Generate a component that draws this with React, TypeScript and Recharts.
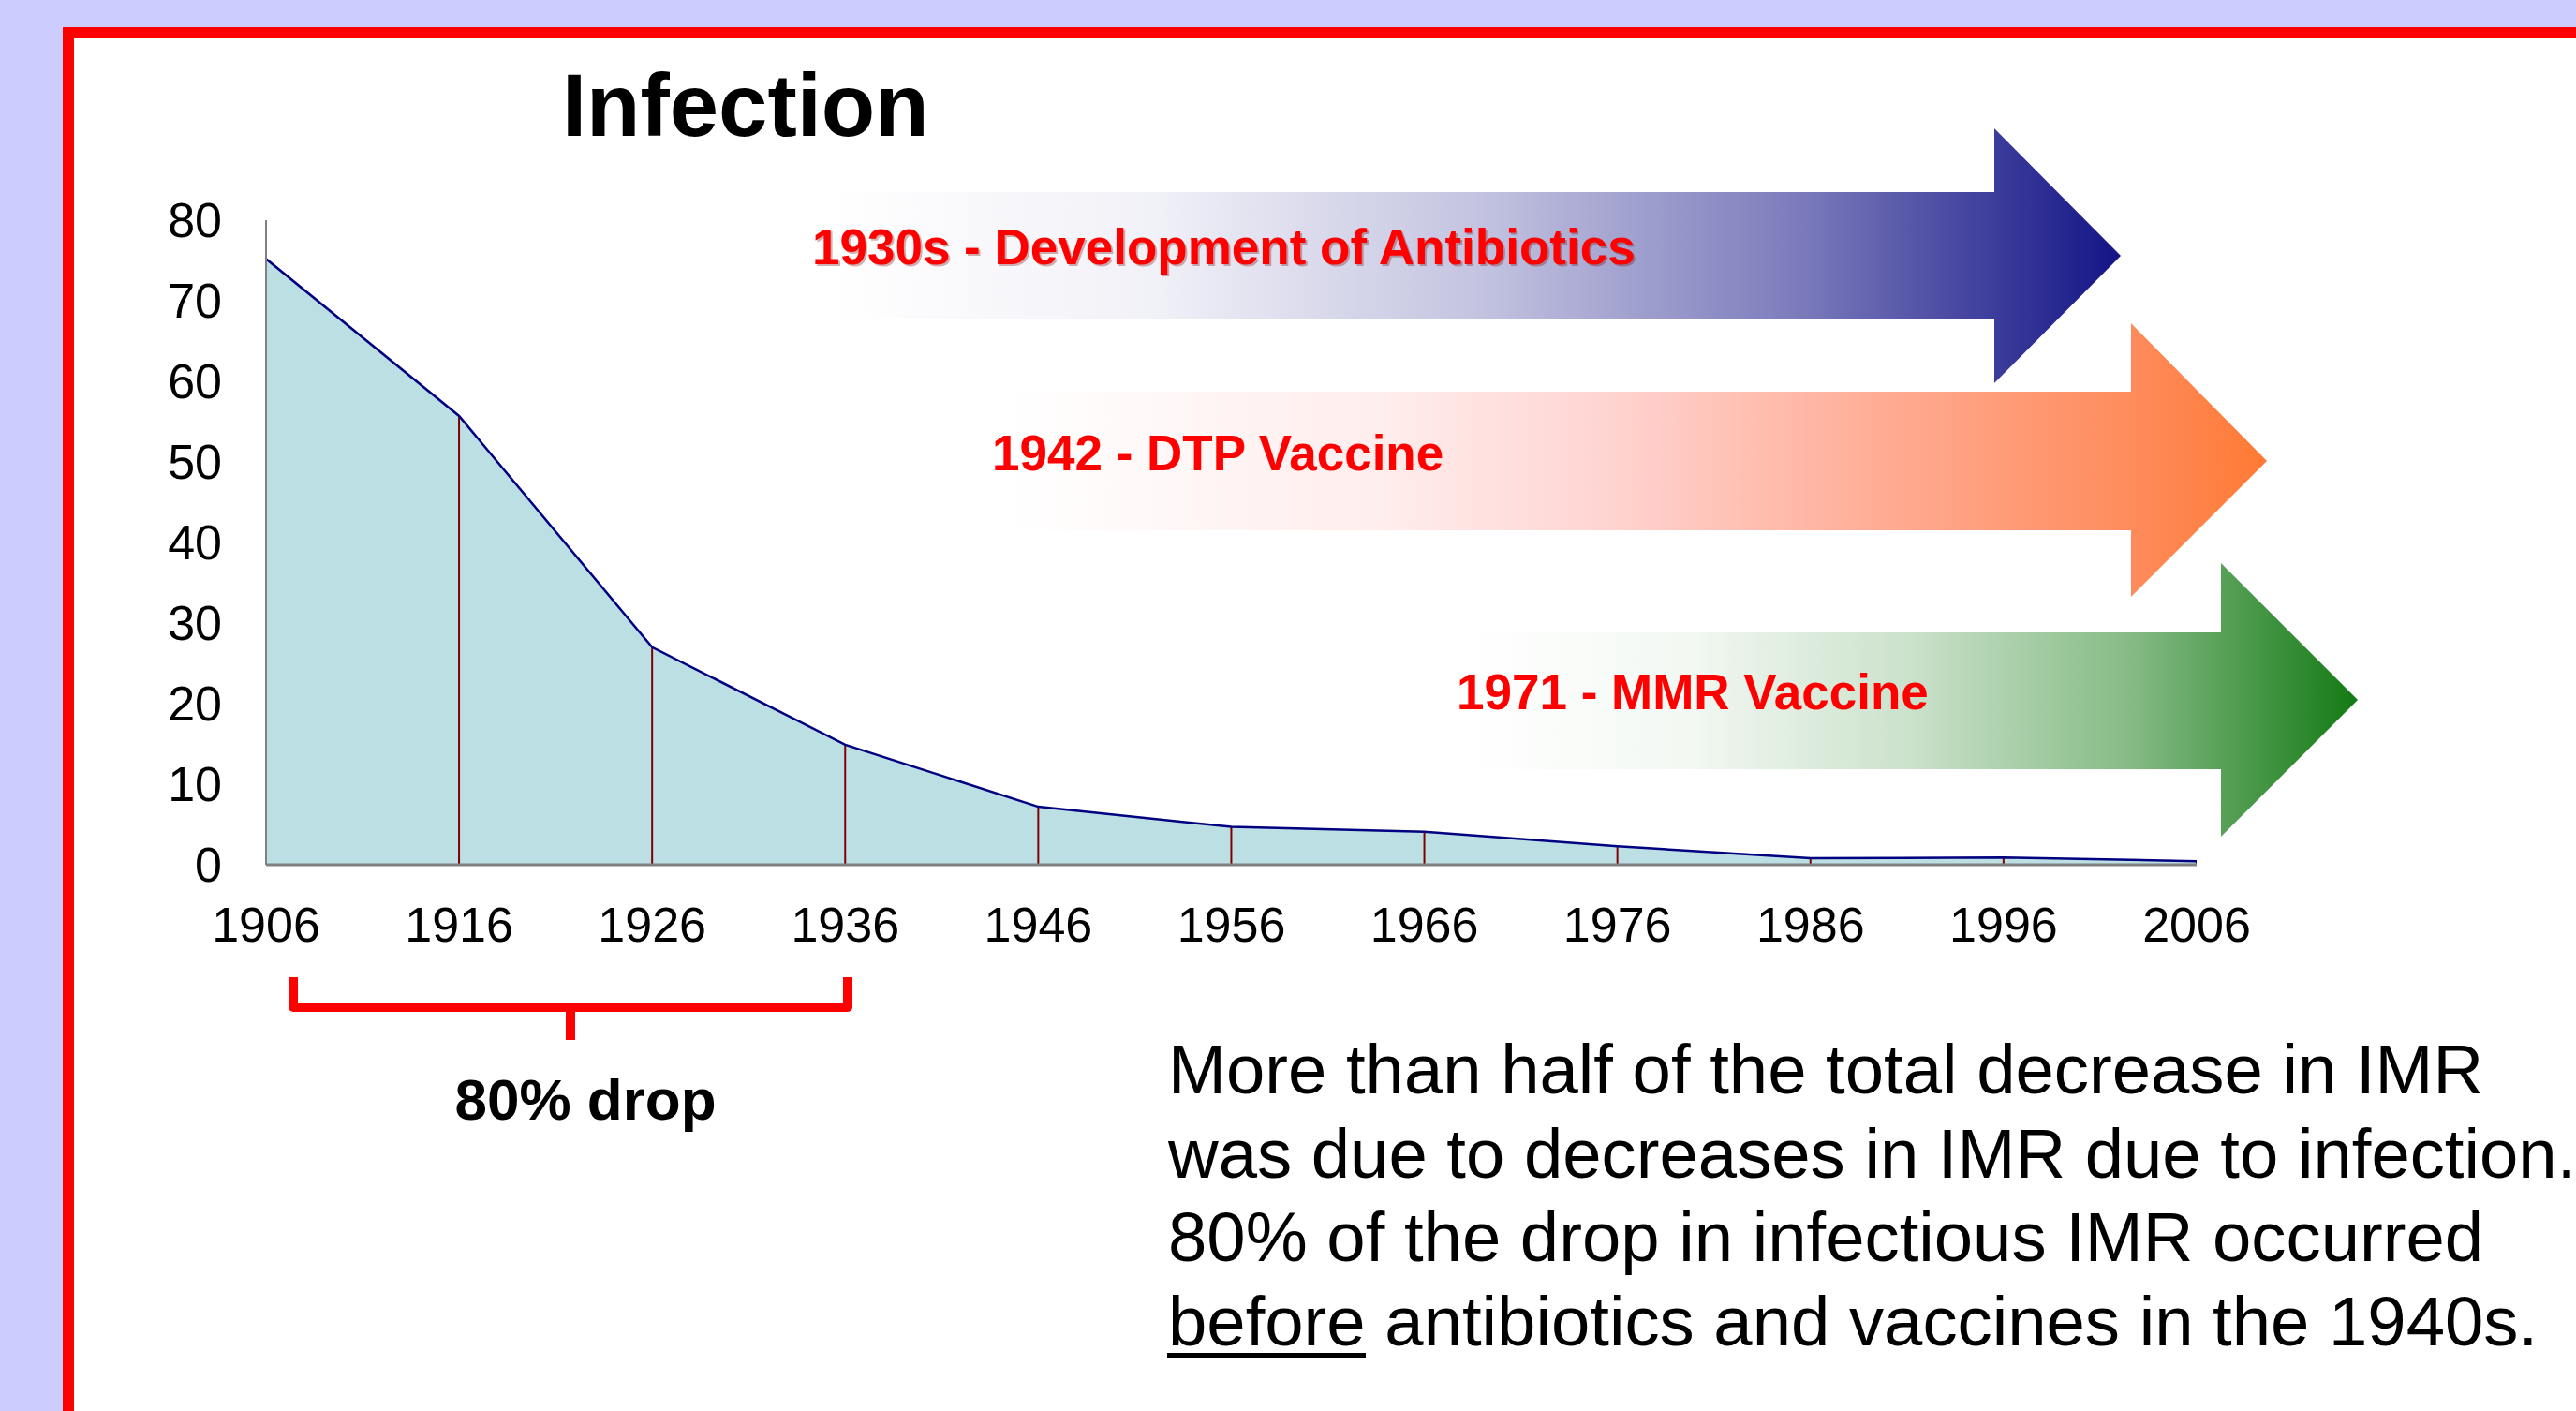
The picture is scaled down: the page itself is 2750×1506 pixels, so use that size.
import React from "react";
import {
  ComposedChart,
  Area,
  Bar,
  Line,
  XAxis,
  YAxis,
} from "recharts";

const years = [1906, 1916, 1926, 1936, 1946, 1956, 1966, 1976, 1986, 1996, 2006];
const infectionIMR = [75.2, 55.7, 27.0, 14.9, 7.2, 4.7, 4.1, 2.3, 0.8, 0.9, 0.45];
const yTicks = [0, 10, 20, 30, 40, 50, 60, 70, 80];
const xTicks = years;

const title = "Infection";
const arrowLabels = [
  "1930s - Development of Antibiotics",
  "1942 - DTP Vaccine",
  "1971 - MMR Vaccine",
];
const bracketLabel = "80% drop";
const noteLines = [
  "More than half of the total decrease in IMR",
  "was due to decreases in IMR due to infection.",
  "80% of the drop in infectious IMR occurred",
];
const noteLastUnderlined = "before";
const noteLastRest = " antibiotics and vaccines in the 1940s.";

const data = years.map((y, i) => ({ year: y, imr: infectionIMR[i] }));

const FONT = '"Liberation Sans", Arial, Helvetica, sans-serif';

type ArrowSpec = {
  x0: number;
  shaftTop: number;
  shaftBottom: number;
  headX: number;
  headTop: number;
  headBottom: number;
  tipX: number;
  tipY: number;
  grad: string;
};

const arrows: ArrowSpec[] = [
  { x0: 885, shaftTop: 205, shaftBottom: 341, headX: 2129, headTop: 137, headBottom: 409, tipX: 2264, tipY: 273, grad: "gBlue" },
  { x0: 1075, shaftTop: 418, shaftBottom: 566, headX: 2275, headTop: 345, headBottom: 637, tipX: 2420, tipY: 492, grad: "gOrange" },
  { x0: 1560, shaftTop: 675, shaftBottom: 821, headX: 2371, headTop: 601, headBottom: 893, tipX: 2517, tipY: 747, grad: "gGreen" },
];

const labelPos = [
  { x: 867, y: 282 },
  { x: 1059, y: 502 },
  { x: 1555, y: 757 },
];

function arrowPath(a: ArrowSpec) {
  return `M${a.x0},${a.shaftTop} L${a.headX},${a.shaftTop} L${a.headX},${a.headTop} L${a.tipX},${a.tipY} L${a.headX},${a.headBottom} L${a.headX},${a.shaftBottom} L${a.x0},${a.shaftBottom} Z`;
}

export default function App() {
  return (
    <div
      style={{
        position: "fixed",
        left: 0,
        top: 0,
        width: 2750,
        height: 1506,
        overflow: "hidden",
        background: "#CCCCFF",
        fontFamily: FONT,
      }}
    >
      <div
        style={{
          position: "absolute",
          left: 67,
          top: 29,
          width: 2800,
          height: 1600,
          background: "#FFFFFF",
          borderTop: "12px solid #FF0000",
          borderLeft: "12px solid #FF0000",
          boxSizing: "border-box",
        }}
      />
      <div style={{ position: "absolute", left: 0, top: 0 }}>
        <ComposedChart
          width={2750}
          height={1506}
          data={data}
          margin={{ top: 235, right: 405, bottom: 523, left: 0 }}
        >
          <XAxis
            dataKey="year"
            type="number"
            domain={[1906, 2006]}
            ticks={xTicks}
            interval={0}
            height={60}
            tickLine={false}
            tickSize={0}
            tickMargin={45}
            axisLine={{ stroke: "#808080", strokeWidth: 3 }}
            tick={{ fill: "#000000", fontSize: 52, fontFamily: FONT }}
            allowDataOverflow
          />
          <YAxis
            type="number"
            domain={[0, 80]}
            ticks={yTicks}
            interval={0}
            width={284}
            tickLine={false}
            tickSize={0}
            tickMargin={47}
            axisLine={{ stroke: "#808080", strokeWidth: 2 }}
            tick={{ fill: "#000000", fontSize: 52, fontFamily: FONT }}
          />
          <Area
            type="linear"
            dataKey="imr"
            fill="#BBDFE3"
            fillOpacity={1}
            stroke="none"
            isAnimationActive={false}
            dot={false}
            activeDot={false}
          />
          <Bar
            dataKey="imr"
            barSize={2}
            fill="#800000"
            isAnimationActive={false}
          />
          <Line
            type="linear"
            dataKey="imr"
            stroke="#000080"
            strokeWidth={2.5}
            dot={false}
            activeDot={false}
            isAnimationActive={false}
          />
        </ComposedChart>
      </div>
      <svg
        width={2750}
        height={1506}
        style={{ position: "absolute", left: 0, top: 0, pointerEvents: "none" }}
      >
        <defs>
          <linearGradient id="gBlue" gradientUnits="userSpaceOnUse" x1={885} y1={0} x2={2264} y2={0}>
            <stop offset="0" stopColor="#141487" stopOpacity={0} />
            <stop offset="0.25" stopColor="#141487" stopOpacity={0.06} />
            <stop offset="0.5" stopColor="#141487" stopOpacity={0.25} />
            <stop offset="0.75" stopColor="#141487" stopOpacity={0.56} />
            <stop offset="1" stopColor="#141487" stopOpacity={1} />
          </linearGradient>
          <linearGradient id="gOrange" gradientUnits="userSpaceOnUse" x1={1075} y1={0} x2={2420} y2={0}>
            <stop offset="0" stopColor="#FFFFFF" />
            <stop offset="0.3" stopColor="#FFEDEC" />
            <stop offset="0.47" stopColor="#FFD5D3" />
            <stop offset="0.7" stopColor="#FFAB93" />
            <stop offset="0.9" stopColor="#FF8A5A" />
            <stop offset="1" stopColor="#FF7A33" />
          </linearGradient>
          <linearGradient id="gGreen" gradientUnits="userSpaceOnUse" x1={1560} y1={0} x2={2517} y2={0}>
            <stop offset="0" stopColor="#137A13" stopOpacity={0} />
            <stop offset="0.25" stopColor="#137A13" stopOpacity={0.05} />
            <stop offset="0.5" stopColor="#137A13" stopOpacity={0.22} />
            <stop offset="0.75" stopColor="#137A13" stopOpacity={0.52} />
            <stop offset="1" stopColor="#137A13" stopOpacity={1} />
          </linearGradient>
        </defs>

        <text
          x={600}
          y={145}
          fontFamily={FONT}
          fontWeight="bold"
          fontSize={94}
          fill="#000000"
        >
          {title}
        </text>

        {arrows.map((a, i) => (
          <path key={"ar" + i} d={arrowPath(a)} fill={`url(#${a.grad})`} />
        ))}

        {arrowLabels.map((t, i) => (
          <g key={"lb" + i}>
            {i === 0 && (
              <text
                x={labelPos[i].x + 2}
                y={labelPos[i].y + 2}
                fontFamily={FONT}
                fontWeight="bold"
                fontSize={53}
                fill="#700000"
                opacity={0.3}
              >
                {t}
              </text>
            )}
            <text
              x={labelPos[i].x}
              y={labelPos[i].y}
              fontFamily={FONT}
              fontWeight="bold"
              fontSize={53}
              fill="#FF0000"
            >
              {t}
            </text>
          </g>
        ))}

        <path
          d="M313,1043 L313,1075 L905,1075 L905,1043 M609,1075 L609,1110"
          fill="none"
          stroke="#FF0000"
          strokeWidth={10}
          strokeLinejoin="round"
        />
        <text
          x={625}
          y={1195}
          textAnchor="middle"
          fontFamily={FONT}
          fontWeight="bold"
          fontSize={62}
          fill="#000000"
        >
          {bracketLabel}
        </text>

        {noteLines.map((t, i) => (
          <text
            key={"nl" + i}
            x={1247}
            y={1167 + i * 89.5}
            fontFamily={FONT}
            fontSize={74.3}
            fill="#000000"
          >
            {t}
          </text>
        ))}
        <text x={1247} y={1167 + 3 * 89.5} fontFamily={FONT} fontSize={74.3} fill="#000000">
          <tspan>{noteLastUnderlined}</tspan>
          <tspan>{noteLastRest}</tspan>
        </text>
        <rect x={1246} y={1444} width={212} height={5} fill="#000000" />
      </svg>
    </div>
  );
}
